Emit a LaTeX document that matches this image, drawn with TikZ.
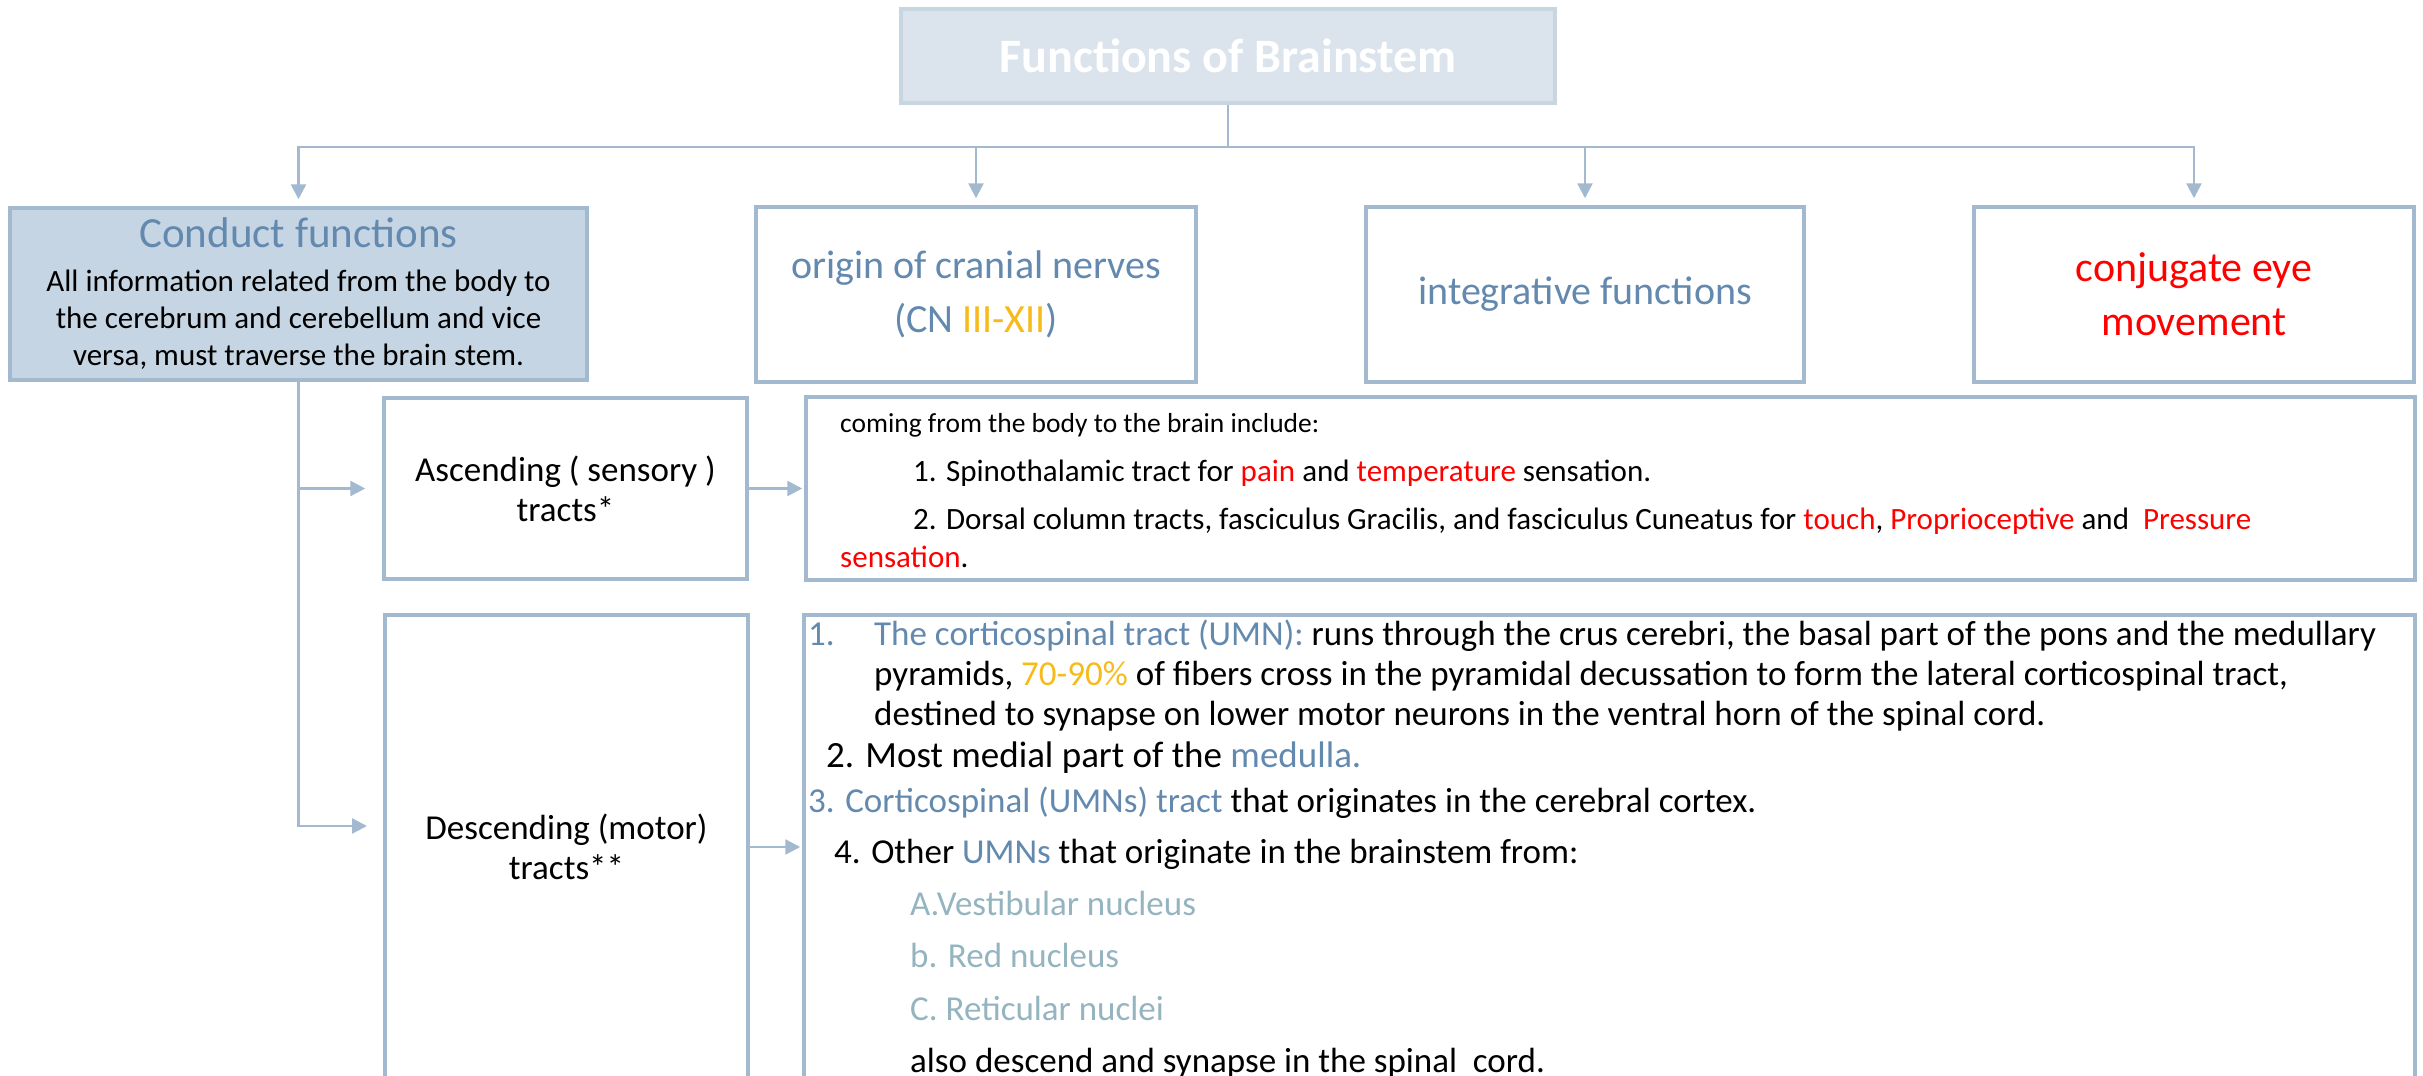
\documentclass[tikz,border=0pt]{standalone}
\usepackage{fontspec}
\setmainfont{Carlito}
\usetikzlibrary{arrows.meta}
\definecolor{bBorder}{HTML}{A2B9CF}
\definecolor{bTitleFill}{HTML}{DBE4EC}
\definecolor{bTitleDraw}{HTML}{C8D6E2}
\definecolor{bConductFill}{HTML}{C6D5E3}
\definecolor{bSteel}{HTML}{6389AF}
\definecolor{bGold}{HTML}{F6BB1A}
\definecolor{bPale}{HTML}{94B4C0}
\definecolor{bRed}{HTML}{FF0000}
\tikzset{
 fbox/.style={draw=bBorder, line width=3.5pt, inner sep=0pt, align=center},
 conn/.style={draw=bBorder, line width=2.5pt},
 arr/.style={conn, -{Triangle[length=15pt,width=15pt]}},
 tline/.style={anchor=base west, inner sep=0pt},
 asctxt/.style={tline, font=\fontsize{31}{36}\selectfont},
 desctxt/.style={tline, font=\fontsize{35}{40}\selectfont}
}
\newcommand{\lnode}[5]{\node[#1] (#4) at (#2,#3) {#5};}
\newcommand{\hl}[1]{\textcolor{bRed}{#1}}

\begin{document}
\begin{tikzpicture}[x=1pt,y=-1pt]
\useasboundingbox (0,0) rectangle (2423,1076);
\clip (0,0) rectangle (2423,1076);
% top box and the four functions
\node[fbox, draw=bTitleDraw, fill=bTitleFill, minimum width=654pt, minimum height=94pt, text=white, font=\fontsize{48}{48}\bfseries\selectfont] (title) at (1228,56) {Functions of Brainstem};
\node[fbox, fill=bConductFill, minimum width=577pt, minimum height=172pt, font=\fontsize{31}{37}\selectfont] (conduct) at (298.5,294) {{\fontsize{43}{43}\selectfont\color{bSteel}Conduct functions}\\[7pt]All information related from the body to\\the cerebrum and cerebellum and vice\\versa, must traverse the brain stem.};
\node[fbox, minimum width=440pt, minimum height=175pt, text=bSteel, font=\fontsize{40}{54}\selectfont] (origin) at (976,294.5) {origin of cranial nerves\\(CN \textcolor{bGold}{III-XII})};
\node[fbox, minimum width=438pt, minimum height=175pt, text=bSteel, font=\fontsize{40}{54}\selectfont] (integr) at (1585,294.5) {integrative functions};
\node[fbox, minimum width=440pt, minimum height=175pt, text=bRed, font=\fontsize{42}{54}\selectfont] (conj) at (2194,294.5) {conjugate eye\\movement};
\coordinate (bus) at (0,147);
\draw[conn] (title.south) -- (title.south |- bus);
\draw[arr] (title.south |- bus) -| ([yshift=7pt]conduct.north);
\draw[arr] (title.south |- bus) -| ([yshift=7pt]conj.north);
\foreach \n in {origin,integr}
 \draw[arr] (\n.north |- bus) -- ([yshift=7pt]\n.north);

% tracts
\node[fbox, minimum width=363pt, minimum height=181pt, font=\fontsize{35}{40}\selectfont] (asc) at (565.5,488.5) {Ascending ( sensory )\\tracts*};
\node[fbox, minimum width=1609pt, minimum height=183pt] (asctext) at (1610.5,488.5) {};
\node[fbox, minimum width=363pt, minimum height=495pt] (desc) at (566.5,862.5) {};
\node[inner sep=0pt, align=center, font=\fontsize{35}{40}\selectfont] (desclbl) at (566.5,847) {Descending (motor)\\tracts**};
\node[fbox, minimum width=1611pt, minimum height=495pt] (desctext) at (1609.5,862.5) {};
\coordinate (descin) at (367,826);
\draw[arr] (conduct.south) |- ([xshift=-17pt]asc.west);
\draw[arr] (conduct.south) |- (descin);
\draw[arr] (asc.east) -- ([xshift=-2pt]asctext.west);
\draw[arr] (desc.east |- desclbl) -- ([xshift=-2pt]desctext.west |- desclbl);

% ascending text
\lnode{asctxt, font=\fontsize{27.5}{36}\selectfont}{840}{432}{a1}{coming from the body to the brain include:}
\lnode{asctxt}{913}{481}{a2}{1. Spinothalamic tract for \hl{pain} and \hl{temperature} sensation.}
\lnode{asctxt}{913}{529}{a3}{2. Dorsal column tracts, fasciculus Gracilis, and fasciculus Cuneatus for \hl{touch}, \hl{Proprioceptive} and \ \hl{Pressure}}
\lnode{asctxt}{840}{567}{a4}{\hl{sensation}.}

% descending text
\lnode{desctxt}{808}{645}{d1}{\textcolor{bSteel}{\makebox[66pt][l]{1.}The corticospinal tract (UMN):} runs through the crus cerebri, the basal part of the pons and the medullary}
\lnode{desctxt}{874}{685}{d2}{pyramids, \textcolor{bGold}{70-90\%} of fibers cross in the pyramidal decussation to form the lateral corticospinal tract,}
\lnode{desctxt}{874}{725}{d3}{destined to synapse on lower motor neurons in the ventral horn of the spinal cord.}
\lnode{desctxt, font=\fontsize{37}{40}\selectfont}{826}{767}{d4}{2. Most medial part of the \textcolor{bSteel}{medulla.}}
\lnode{desctxt}{808}{812}{d5}{\textcolor{bSteel}{3. Corticospinal (UMNs) tract} that originates in the cerebral cortex.}
\lnode{desctxt}{834}{863}{d6}{4. Other \textcolor{bSteel}{UMNs} that originate in the brainstem from:}
\lnode{desctxt, text=bPale}{910}{915}{d7}{A.Vestibular nucleus}
\lnode{desctxt, text=bPale}{910}{967}{d8}{b. Red nucleus}
\lnode{desctxt, text=bPale}{910}{1020}{d9}{C. Reticular nuclei}
\lnode{desctxt}{910}{1072}{d10}{also descend and synapse in the spinal \ cord.}
\end{tikzpicture}
\end{document}
